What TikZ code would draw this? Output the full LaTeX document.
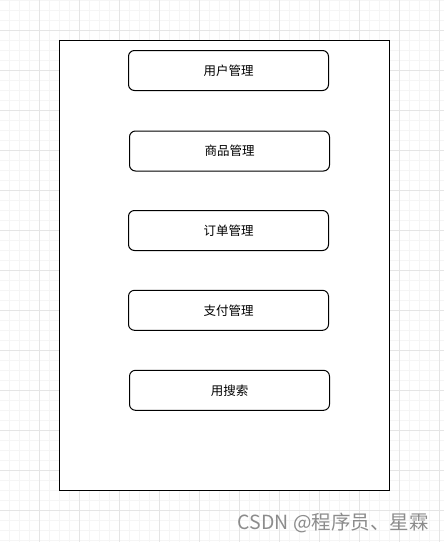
\documentclass[tikz,border=0pt]{standalone}
\usepackage{fontspec}
\newfontfamily\cjk{Noto Sans CJK SC}
\begin{document}
\begin{tikzpicture}[x=1pt,y=-1pt,
  module/.style={draw=black,line width=1pt,rounded corners=6pt,minimum width=200pt,minimum height=40pt,inner sep=0pt,font=\cjk\fontsize{12.5}{14}\selectfont},
  frame/.style={draw=black,line width=1.2pt}]
\useasboundingbox (0,0) rectangle (444,542);
\fill[white] (0,0) rectangle (444,542);
% minor grid
\foreach \x in {9.5,19.5,...,440} \draw[color=black!4,line width=0.8pt] (\x,0) -- (\x,542);
\foreach \y in {0,10,...,540} \draw[color=black!4,line width=0.8pt] (0,\y) -- (444,\y);
% major grid
\foreach \x in {39.5,79.5,...,440} \draw[color=black!10,line width=0.8pt] (\x,0) -- (\x,542);
\foreach \y in {30,70,...,540} \draw[color=black!10,line width=0.8pt] (0,\y) -- (444,\y);
% outer frame
\node[frame,fill=white,minimum width=330pt,minimum height=450pt,inner sep=0pt] (outer) at (224.5,265.5) {};
\node[module] (user) at (228.5,70.5) {用户管理};
\node[module] (goods) at (229.5,151) {商品管理};
\node[module] (order) at (228.5,230.5) {订单管理};
\node[module] (pay) at (228.5,310.3) {支付管理};
\node[module] (search) at (229.5,390.3) {用搜索};
\node[text=black!45,font=\cjk\fontsize{19.5}{22}\selectfont,anchor=east,inner sep=0pt] (wm) at (429,523) {CSDN @程序员、星霖};
\end{tikzpicture}
\end{document}
